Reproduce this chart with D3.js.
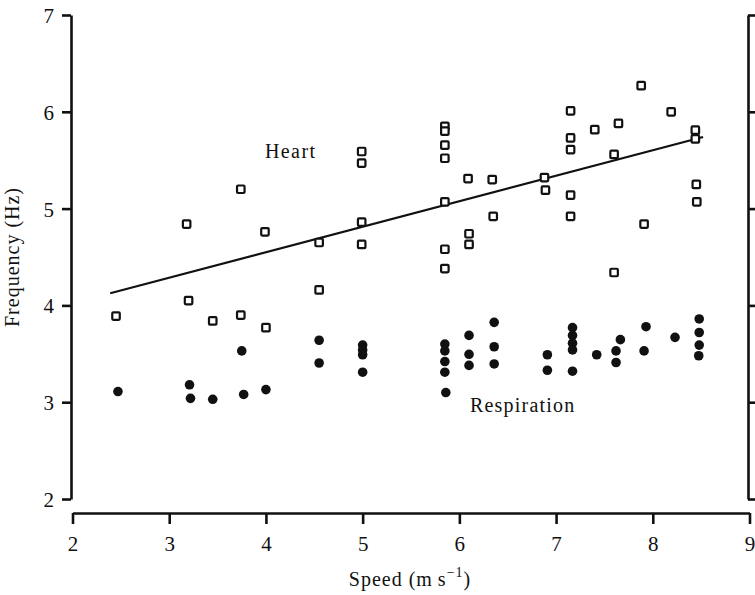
<!DOCTYPE html>
<html>
<head>
<meta charset="utf-8">
<script src="https://cdn.jsdelivr.net/npm/d3@7"></script>
<style>
  html, body { margin: 0; padding: 0; background: #fff; }
  svg { display: block; font-family: "Liberation Serif", "Times New Roman", serif; }
</style>
</head>
<body>
<div id="chart"></div>
<script>
// ---------- data ----------
const heartSpeed = [2.45, 3.18, 3.20, 3.45, 3.74, 3.74, 3.99, 4.00, 4.55, 4.55,
  4.99, 4.99, 4.99, 4.99,
  5.85, 5.85, 5.85, 5.85, 5.85, 5.85, 5.85,
  6.09, 6.10, 6.10, 6.34, 6.35, 6.88, 6.89,
  7.15, 7.15, 7.15, 7.15, 7.15, 7.40, 7.645, 7.60, 7.60, 7.88, 7.91, 8.19,
  8.44, 8.44, 8.45, 8.455];
const heartFreq = [3.89, 4.84, 4.05, 3.84, 5.20, 3.90, 4.76, 3.77, 4.65, 4.16,
  5.59, 5.47, 4.86, 4.63,
  5.85, 5.80, 5.655, 5.52, 5.07, 4.58, 4.38,
  5.31, 4.74, 4.63, 5.30, 4.92, 5.32, 5.19,
  6.01, 5.73, 5.61, 5.14, 4.92, 5.815, 5.88, 5.56, 4.34, 6.27, 4.84, 6.00,
  5.81, 5.72, 5.25, 5.07];

const respSpeed = [2.47, 3.21, 3.22, 3.45, 3.75, 3.77, 4.00, 4.55, 4.55,
  5.00, 5.00, 5.00, 5.00,
  5.85, 5.85, 5.85, 5.85, 5.86,
  6.10, 6.10, 6.10, 6.36, 6.36, 6.36, 6.91, 6.91,
  7.17, 7.17, 7.17, 7.17, 7.17, 7.42, 7.665, 7.62, 7.62, 7.93, 7.91, 8.23,
  8.48, 8.48, 8.48, 8.475];
const respFreq = [3.11, 3.18, 3.04, 3.03, 3.53, 3.08, 3.13, 3.64, 3.405,
  3.59, 3.54, 3.49, 3.31,
  3.60, 3.53, 3.42, 3.31, 3.10,
  3.69, 3.495, 3.38, 3.825, 3.573, 3.395, 3.49, 3.33,
  3.77, 3.69, 3.61, 3.54, 3.32, 3.49, 3.646, 3.53, 3.41, 3.78, 3.53, 3.67,
  3.86, 3.72, 3.59, 3.48];

// fitted line through the heart-rate points (end points)
const fitSpeed = [2.39, 8.52];
const fitFreq = [4.125, 5.74];

const xTicks = [2, 3, 4, 5, 6, 7, 8, 9];
const yTicks = [2, 3, 4, 5, 6, 7];

// ---------- layout ----------
const W = 755, H = 595;
const x = d3.scaleLinear().domain([2, 9]).range([72.5, 749.5]);
const y = d3.scaleLinear().domain([2, 7]).range([499, 15]);

const svg = d3.select("#chart").append("svg")
  .attr("width", W).attr("height", H);

const ink = "#111";

// bottom axis (offset below the plot)
const gx = svg.append("g")
  .attr("transform", "translate(0,513)")
  .call(d3.axisBottom(x).tickValues(xTicks).tickSize(11).tickSizeOuter(0).tickPadding(12)
    .tickFormat(d3.format("d")));

// left axis
const gy = svg.append("g")
  .attr("transform", "translate(71,0)")
  .call(d3.axisLeft(y).tickValues(yTicks).tickSize(9).tickSizeOuter(0).tickPadding(8)
    .tickFormat(d3.format("d")));

// right axis of the neighbouring panel (no labels)
const gr = svg.append("g")
  .attr("transform", "translate(748,0)")
  .call(d3.axisRight(y).tickValues(yTicks).tickSize(9).tickSizeOuter(0).tickFormat(""));

[gx, gy, gr].forEach(g => {
  g.select(".domain").attr("stroke", ink).attr("stroke-width", 2.6);
  g.selectAll(".tick line").attr("stroke", ink).attr("stroke-width", 2.6);
  g.selectAll(".tick text")
    .attr("fill", ink)
    .style("font-family", "Liberation Serif, serif")
    .style("font-size", "21px");
});
gy.selectAll(".tick text").attr("dy", "0.36em");

// regression line
svg.append("path")
  .datum(d3.zip(fitSpeed, fitFreq))
  .attr("fill", "none")
  .attr("stroke", ink)
  .attr("stroke-width", 2.2)
  .attr("d", d3.line().x(d => x(d[0])).y(d => y(d[1])));

// heart rate: open squares
const sq = 7.5;
svg.append("g")
  .selectAll("rect")
  .data(d3.zip(heartSpeed, heartFreq))
  .join("rect")
  .attr("x", d => x(d[0]) - sq / 2)
  .attr("y", d => y(d[1]) - sq / 2)
  .attr("width", sq)
  .attr("height", sq)
  .attr("rx", 1)
  .attr("fill", "#fff")
  .attr("stroke", ink)
  .attr("stroke-width", 2.2);

// respiration: filled circles
svg.append("g")
  .selectAll("circle")
  .data(d3.zip(respSpeed, respFreq))
  .join("circle")
  .attr("cx", d => x(d[0]))
  .attr("cy", d => y(d[1]))
  .attr("r", 4.8)
  .attr("fill", ink);

// series labels
svg.append("text")
  .attr("x", 265).attr("y", 158)
  .attr("fill", ink)
  .style("font-size", "20px")
  .style("letter-spacing", "1.4px")
  .text("Heart");

svg.append("text")
  .attr("x", 470).attr("y", 412)
  .attr("fill", ink)
  .style("font-size", "20px")
  .style("letter-spacing", "1.2px")
  .text("Respiration");

// axis titles
svg.append("text")
  .attr("transform", "translate(19,257) rotate(-90)")
  .attr("text-anchor", "middle")
  .attr("fill", ink)
  .style("font-size", "20px")
  .style("letter-spacing", "1px")
  .text("Frequency (Hz)");

const xt = svg.append("text")
  .attr("x", 410).attr("y", 586)
  .attr("text-anchor", "middle")
  .attr("fill", ink)
  .style("font-size", "20px")
  .style("letter-spacing", "1px");
xt.append("tspan").text("Speed (m\u2009s");
xt.append("tspan").attr("dy", -9).style("font-size", "14px").text("\u22121");
xt.append("tspan").attr("dy", 9).text(")");
</script>
</body>
</html>
